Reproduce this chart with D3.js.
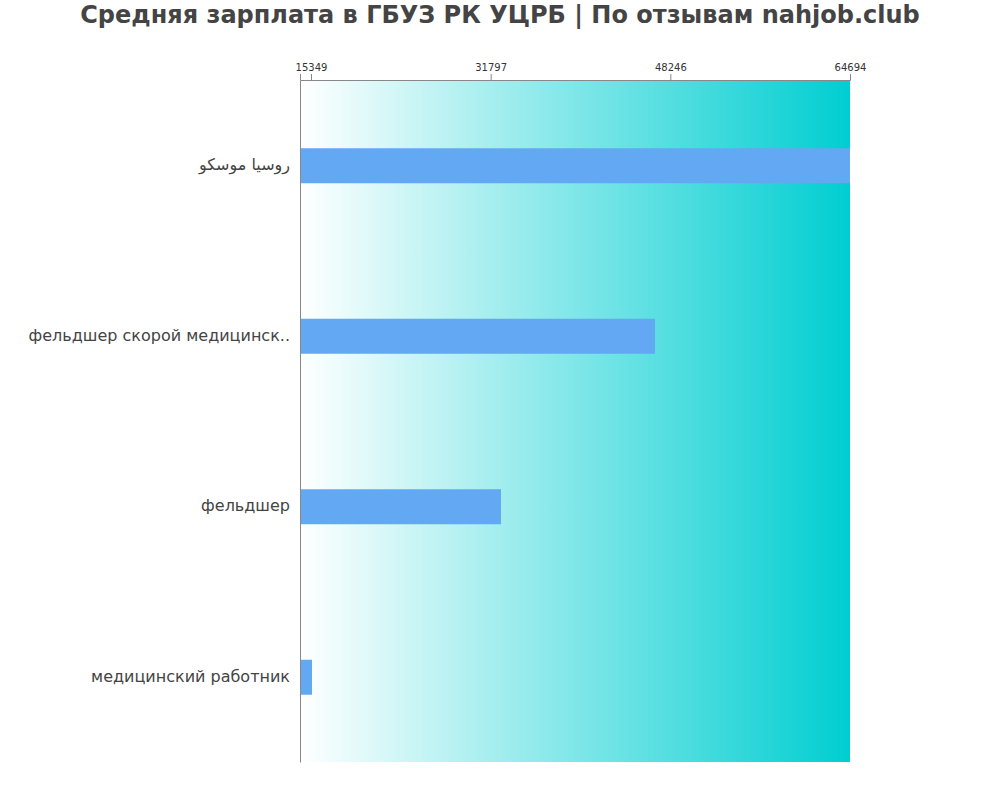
<!DOCTYPE html>
<html>
<head>
<meta charset="utf-8">
<script src="https://cdn.jsdelivr.net/npm/d3@7"></script>
<style>
  body { margin: 0; background: #fff; }
  text { font-family: "DejaVu Sans", sans-serif; }
</style>
</head>
<body>
<svg id="chart" width="1000" height="800"></svg>
<script>
const categories = ["روسيا موسكو", "фельдшер скорой медицинск..", "фельдшер", "медицинский работник"];
const salaries = [64694, 46840, 32740, 15440];
const tickValues = [15349, 31797, 48246, 64694];
const title = "Средняя зарплата в ГБУЗ РК УЦРБ | По отзывам nahjob.club";

const margin = { top: 80, right: 150, bottom: 38, left: 300 };
const width = 1000 - margin.left - margin.right;
const height = 800 - margin.top - margin.bottom;

const svg = d3.select("#chart");

svg.append("text")
  .attr("x", 500).attr("y", 23)
  .attr("text-anchor", "middle")
  .style("font-size", "24px").style("font-weight", "bold")
  .style("fill", "#444")
  .text(title);

const defs = svg.append("defs");
const grad = defs.append("linearGradient").attr("id", "bg");
grad.append("stop").attr("offset", "0%").attr("stop-color", "#ffffff");
grad.append("stop").attr("offset", "100%").attr("stop-color", "#00ced1");

const g = svg.append("g").attr("transform", `translate(${margin.left},${margin.top})`);

const x = d3.scaleLinear().domain([14342, 64694]).range([0, width]);
const y = d3.scaleBand().domain(categories).range([0, height]);

g.append("rect").attr("width", width).attr("height", height).attr("fill", "url(#bg)");

g.selectAll(".bar")
  .data(categories)
  .enter().append("rect")
  .attr("x", 0)
  .attr("y", d => y(d) + y.bandwidth() / 2 - 17)
  .attr("height", 35)
  .attr("width", (d, i) => x(salaries[i]))
  .attr("fill", "#63a8f2");

const xAxis = g.append("g")
  .call(d3.axisTop(x).tickValues(tickValues).tickSize(6).tickFormat(d3.format("d")));
xAxis.select(".domain").attr("stroke", "#888");
xAxis.selectAll(".tick line").attr("stroke", "#888");
xAxis.selectAll("text").style("font-size", "10px").style("fill", "#333");

const yAxis = g.append("g").call(d3.axisLeft(y).tickSize(0).tickPadding(10));
yAxis.select(".domain").attr("stroke", "#888");
yAxis.selectAll("text").style("font-size", "16px").style("fill", "#444");
</script>
</body>
</html>
